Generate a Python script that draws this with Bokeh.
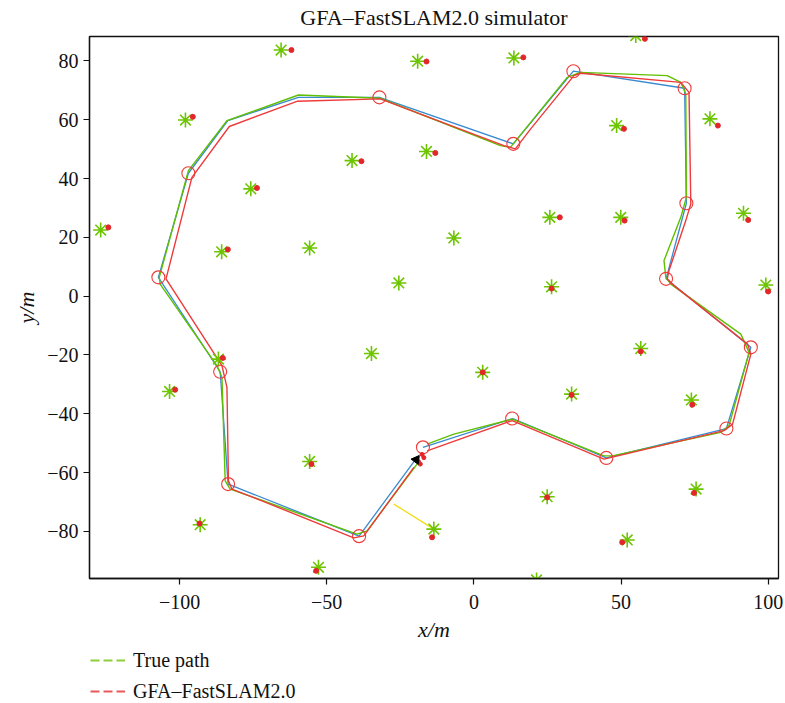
import math

from bokeh.embed import file_html
from bokeh.layouts import column
from bokeh.models import Legend, LegendItem, Range1d, FixedTicker
from bokeh.plotting import figure
from bokeh.resources import INLINE

# ---- data (metres) -------------------------------------------------------
# waypoints of the planned route (red circles)
waypoint_x = [-17.3, 13.0, 45.0, 85.8, 94.1, 65.3, 72.2, 71.6, 33.8, 13.4,
              -32.1, -97.0, -107.2, -86.2, -83.5, -39.0]
waypoint_y = [-51.4, -41.6, -55.0, -45.0, -17.4, 5.9, 31.6, 70.7, 76.5, 51.8,
              67.6, 41.8, 6.4, -25.7, -63.9, -81.6]

# straight-line route through the waypoints (blue)
route_x = [-17.3, 13.2, 45.0, 85.8, 94.1, 65.3, 72.2, 71.6, 33.8, 13.4,
           -32.1, -59.6, -83.6, -97.0, -107.2, -86.2, -83.5, -39.0, -19.3]
route_y = [-51.4, -41.6, -55.0, -45.0, -17.4, 5.9, 31.6, 70.7, 76.5, 51.8,
           67.6, 67.6, 59.7, 41.8, 6.4, -25.7, -63.9, -81.6, -54.8]

# true vehicle path (green)
true_x = [-15.9, -6.8, 13.0, 44.2, 47.0, 83.9, 86.7, 93.5, 90.7, 66.9, 65.2,
          64.6, 70.3, 72.2, 72.0, 70.3, 65.7, 36.2, 31.7, 12.4, 9.0, -31.8,
          -59.6, -83.9, -97.0, -106.9, -106.6, -87.3, -85.6, -84.5, -82.8,
          -74.9, -39.7, -36.3, -19.3]
true_y = [-50.3, -46.9, -41.8, -54.3, -54.3, -46.3, -44.0, -19.1, -12.9, 4.1,
          6.4, 12.1, 26.8, 33.6, 68.8, 72.7, 75.0, 76.1, 74.4, 50.6, 51.2,
          67.3, 68.4, 59.7, 42.7, 6.4, 4.1, -23.6, -27.6, -62.8, -65.6,
          -68.4, -80.9, -79.8, -57.1]

# GFA-FastSLAM2.0 estimated path (red)
est_x = [-15.9, 13.0, 44.2, 85.0, 87.9, 94.1, 93.0, 68.0, 65.7, 66.3, 72.0,
         73.7, 73.1, 70.3, 36.3, 34.0, 19.3, 14.1, 10.2, -31.8, -59.9, -83.1,
         -95.8, -104.6, -85.6, -83.9, -83.4, -82.2, -72.0, -40.8, -37.4,
         -20.4]
est_y = [-52.6, -42.3, -55.4, -45.7, -43.5, -19.7, -16.3, 3.6, 5.9, 8.7, 25.7,
         31.4, 69.3, 72.7, 75.8, 75.0, 56.9, 50.1, 51.2, 67.1, 66.3, 57.7,
         40.4, 5.9, -23.6, -31.0, -62.8, -65.6, -69.6, -82.2, -81.5, -58.2]

# true landmark positions (green asterisks)
lm_true_x = [-65.5, -19.1, 13.6, 55.0, -98.0, 48.5, 80.2, -41.4, -16.1, -75.8,
             -126.8, 25.8, 49.9, 91.6, -85.7, -55.8, -6.8, -25.5, 26.4, 99.2,
             -86.8, -34.8, 56.7, 3.0, -103.4, 33.2, 73.9, -55.8, 24.9, 75.5,
             -93.0, -13.6, 52.1, -52.8, 21.3]
lm_true_y = [83.7, 79.9, 81.0, 88.6, 59.9, 58.0, 60.3, 46.1, 49.2, 36.5,
             22.5, 26.8, 26.8, 28.2, 15.1, 16.4, 19.8, 4.5, 3.2, 3.8,
             -21.4, -19.5, -17.8, -25.9, -32.4, -33.3, -35.3, -56.2, -68.2,
             -65.6, -77.7, -79.2, -82.9, -92.2, -96.5]

# estimated landmark positions (red dots)
lm_est_x = [-62.0, -16.1, 16.8, 58.1, -95.5, 51.0, 82.9, -38.2, -13.1, -73.7,
            -124.2, 29.2, 51.2, 93.2, -83.6, 26.4, 100.0, -85.3, 56.7, 3.0,
            -101.5, 33.2, 74.2, -55.2, 24.9, 74.8, -93.2, -14.2, 50.4, -53.6]
lm_est_y = [83.7, 79.8, 81.2, 87.5, 61.0, 56.9, 58.0, 45.9, 48.7, 36.8,
            23.4, 26.8, 25.7, 25.9, 15.9, 2.6, 1.6, -21.0, -18.8, -25.9,
            -31.8, -33.6, -36.9, -57.1, -68.4, -66.9, -77.3, -82.0, -83.7,
            -93.4]

# vehicle pose and particle cloud
vehicle_x = [-19.6]
vehicle_y = [-55.6]
vehicle_heading_deg = [53.7]
particle_x = [-17.0, -17.6, -18.2, -18.8]
particle_y = [-54.9, -53.8, -57.1, -56.3]

# current observation ray (yellow)
obs_x = [-27.2, -13.6]
obs_y = [-70.7, -79.2]

x_ticks = [-100, -50, 0, 50, 100]
y_ticks = [-80, -60, -40, -20, 0, 20, 40, 60, 80]

legend_labels = ["True path", "GFA\u2013FastSLAM2.0"]

# ---- styling ---------------------------------------------------------------
SERIF = "Liberation Serif"
GREEN = "#5fbf00"
STAR_GREEN = "#6cc500"
RED = "#ee3a3a"
DOT_RED = "#e3262a"
BLUE = "#3a8ad0"
YELLOW = "#f2dc1a"
KEY_COLORS = ["#8ccf3a", "#e85858"]

MAP_H = 647      # height of the map figure
KEY_H = 56       # height of the strip holding the legend


def signed(v):
    return str(v).replace("-", "\u2212")


p = figure(
    width=785,
    height=MAP_H,
    output_backend="svg",
    toolbar_location=None,
    x_range=Range1d(-130.6, 103.5),
    y_range=Range1d(-96.0, 88.3),
    min_border_left=89,
    min_border_right=7,
    min_border_top=36,
    min_border_bottom=MAP_H - 36 - 542,
    title="GFA\u2013FastSLAM2.0 simulator",
)
p.title.align = "center"
p.title.vertical_align = "top"
p.title.text_font = SERIF
p.title.text_font_size = "22px"
p.title.text_font_style = "normal"
p.title.text_color = "#111111"
p.title.standoff = 9

p.grid.visible = False
p.outline_line_color = "#111111"
p.outline_line_width = 1.3
p.background_fill_color = "white"
p.border_fill_color = "white"

for ax, ticks, lab in ((p.xaxis[0], x_ticks, "x/m"), (p.yaxis[0], y_ticks, "y/m")):
    ax.ticker = FixedTicker(ticks=ticks)
    ax.major_label_overrides = {t: signed(t) for t in ticks}
    ax.minor_tick_line_color = None
    ax.major_tick_in = 0
    ax.major_tick_out = 6
    ax.major_tick_line_color = "#111111"
    ax.major_tick_line_width = 1.2
    ax.axis_line_color = "#111111"
    ax.axis_line_width = 1.3
    ax.major_label_text_font = SERIF
    ax.major_label_text_font_size = "20px"
    ax.major_label_text_color = "#111111"
    ax.axis_label = lab
    ax.axis_label_text_font = SERIF
    ax.axis_label_text_font_size = "22px"
    ax.axis_label_text_font_style = "italic"
    ax.axis_label_text_color = "#111111"
p.yaxis[0].major_label_orientation = "horizontal"
p.xaxis[0].major_label_standoff = 10
p.xaxis[0].axis_label_standoff = 5

# ---- paths -----------------------------------------------------------------
p.line(route_x, route_y, line_color=BLUE, line_width=1.3)
p.line(true_x, true_y, line_color=GREEN, line_width=1.4)
p.line(est_x, est_y, line_color=RED, line_width=1.4)
p.line(obs_x, obs_y, line_color=YELLOW, line_width=1.3)

# ---- landmarks ---------------------------------------------------------------
p.scatter(lm_true_x, lm_true_y, marker="asterisk", size=15,
          line_color=STAR_GREEN, line_width=1.6)
p.scatter(lm_est_x, lm_est_y, marker="circle", size=5,
          fill_color=DOT_RED, line_color=DOT_RED)

# ---- waypoints, vehicle and particles -------------------------------------
p.scatter(waypoint_x, waypoint_y, marker="circle", size=13,
          fill_color=None, line_color=RED, line_width=1.1)
p.scatter(particle_x, particle_y, marker="circle", size=4,
          fill_color=DOT_RED, line_color=DOT_RED)
p.scatter(vehicle_x, vehicle_y, marker="triangle", size=9,
          angle=[math.radians(h - 90) for h in vehicle_heading_deg],
          fill_color="black", line_color="black")

# ---- legend strip under the map (dashed keys) --------------------------------
k = figure(
    width=785,
    height=KEY_H,
    output_backend="svg",
    toolbar_location=None,
    x_range=Range1d(0, 1),
    y_range=Range1d(0, 1),
    min_border=0,
)
k.axis.visible = False
k.grid.visible = False
k.outline_line_color = None
k.background_fill_color = "white"
k.border_fill_color = "white"

# hidden copies of the two paths; only their dashed legend keys are shown
items = []
for lab, col, xs, ys in zip(legend_labels, KEY_COLORS, (true_x, est_x), (true_y, est_y)):
    r = k.line(xs, ys, line_color=col, line_width=2, line_dash="9 4", visible=False)
    items.append(LegendItem(label=lab, renderers=[r]))

legend = Legend(
    items=items,
    location=(1, 0.5),
    orientation="vertical",
    padding=0,
    margin=0,
    spacing=8,
    glyph_width=35,
    glyph_height=20,
    label_height=20,
    label_standoff=8,
    label_text_font=SERIF,
    label_text_font_size="20px",
    label_text_color="#111111",
    background_fill_alpha=0,
    border_line_alpha=0,
    inactive_fill_alpha=0,
)
k.add_layout(legend, "center")

page = column(p, k, spacing=0)
open("out.html", "w").write(file_html(page, INLINE))
